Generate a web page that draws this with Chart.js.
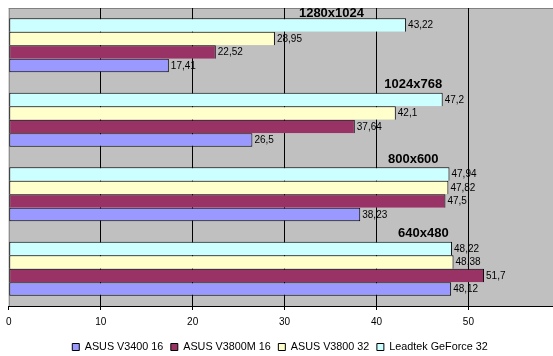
<!DOCTYPE html>
<html>
<head>
<meta charset="utf-8">
<script src="https://cdn.jsdelivr.net/npm/chart.js@4/dist/chart.umd.min.js"></script>
<style>
html,body{margin:0;padding:0;background:#fff;}
#c{display:block;}
</style>
</head>
<body>
<canvas id="c" width="553" height="356"></canvas>
<script>
// ---- data ----
const categories = ['1280x1024', '1024x768', '800x600', '640x480'];
const seriesNames = ['Leadtek GeForce 32', 'ASUS V3800 32', 'ASUS V3800M 16', 'ASUS V3400 16'];
const leadtek32 = [43.22, 47.2, 47.94, 48.22];
const v3800_32 = [28.95, 42.1, 47.82, 48.38];
const v3800m_16 = [22.52, 37.64, 47.5, 51.7];
const v3400_16 = [17.41, 26.5, 38.23, 48.12];
const tickValues = [0, 10, 20, 30, 40, 50];
// x (value) where each resolution title is centred
const titleAnchors = [35.1, 44.0, 44.0, 45.1];

const colors = ['#CCFFFF', '#FFFFCC', '#993366', '#9999FF'];
const seriesValues = [leadtek32, v3800_32, v3800m_16, v3400_16];
const FONT = "'Liberation Sans', Arial, sans-serif";

const datasets = seriesNames.map((name, i) => ({
  label: name,
  data: seriesValues[i],
  backgroundColor: colors[i],
  borderColor: '#000',
  borderWidth: i === seriesNames.length - 1 ? 1 : {top: 1, left: 1, right: 1, bottom: 0},
  borderSkipped: false,
  barPercentage: 1.0,
  categoryPercentage: 0.725
}));

const fmt = v => String(v).replace('.', ',');

const plotPlugin = {
  id: 'plotDecor',
  beforeDraw(chart) {
    const {ctx, chartArea: a} = chart;
    ctx.save();
    ctx.fillStyle = '#C0C0C0';
    ctx.fillRect(a.left, a.top, a.right - a.left, a.bottom - a.top);
    ctx.strokeStyle = '#808080';
    ctx.lineWidth = 1;
    ctx.beginPath();
    ctx.moveTo(a.left, a.top + 0.5);
    ctx.lineTo(a.right, a.top + 0.5);
    ctx.moveTo(a.left + 0.5, a.top);
    ctx.lineTo(a.left + 0.5, a.bottom);
    ctx.stroke();
    // value labels (drawn before grid so grid lines cross them, as in the original)
    ctx.fillStyle = '#000';
    ctx.font = '10px ' + FONT;
    ctx.textAlign = 'left';
    ctx.textBaseline = 'middle';
    chart.data.datasets.forEach((ds, di) => {
      const meta = chart.getDatasetMeta(di);
      meta.data.forEach((el, j) => {
        ctx.fillText(fmt(ds.data[j]), el.x + 2, el.y + 0.5);
      });
    });
    ctx.restore();
  },
  afterDatasetsDraw(chart) {
    const {ctx, chartArea: a} = chart;
    const xs = chart.scales.x;
    const meta0 = chart.getDatasetMeta(0);
    ctx.save();
    ctx.fillStyle = '#000';
    ctx.font = 'bold 13px ' + FONT;
    ctx.textAlign = 'center';
    ctx.textBaseline = 'middle';
    chart.data.labels.forEach((lab, j) => {
      const el = meta0.data[j];
      const barTop = el.y - el.height / 2;
      const y = Math.max(a.top + 5, barTop - 8);
      ctx.fillText(lab, xs.getPixelForValue(titleAnchors[j]), y);
    });
    ctx.restore();
  },
  afterLayout(chart) {
    const lg = chart.legend;
    if (!lg) return;
    const pad = chart.options.plugins.legend.labels.padding;
    const itemH = 10.8;
    const dy = 347 - (lg.top + pad + itemH / 2);
    lg.top += dy;
    lg.bottom += dy;
  }
};

new Chart(document.getElementById('c'), {
  type: 'bar',
  data: {labels: categories, datasets},
  options: {
    indexAxis: 'y',
    responsive: false,
    animation: false,
    devicePixelRatio: 1,
    layout: {padding: {left: 7, top: 8, right: 0, bottom: 0}},
    scales: {
      x: {
        type: 'linear',
        min: 0,
        max: 59.2,
        afterBuildTicks(scale) {
          scale.ticks = tickValues.map(v => ({value: v}));
        },
        afterFit(scale) {
          const lh = scale.chart.legend ? scale.chart.legend.height : 0;
          scale.height = 50 - lh;
        },
        grid: {
          color: c => (c.tick && c.tick.value === 0) ? 'rgba(0,0,0,0)' : '#000',
          tickColor: '#000',
          lineWidth: 1,
          tickLength: 4,
          drawOnChartArea: true
        },
        border: {display: true, color: '#000', width: 1},
        ticks: {
          color: '#000',
          font: {family: FONT, size: 10},
          padding: 6,
          maxRotation: 0,
          autoSkip: false
        }
      },
      y: {
        display: false,
        grid: {display: false}
      }
    },
    plugins: {
      legend: {
        position: 'bottom',
        reverse: true,
        labels: {
          boxWidth: 7,
          boxHeight: 7,
          padding: 7.5,
          color: '#000',
          font: {family: FONT, size: 10.8},
          generateLabels(chart) {
            const items = Chart.defaults.plugins.legend.labels.generateLabels(chart);
            items.forEach(it => { it.lineWidth = 1; it.strokeStyle = '#000'; });
            return items;
          }
        }
      },
      tooltip: {enabled: false},
      title: {display: false}
    }
  },
  plugins: [plotPlugin]
});
</script>
</body>
</html>
